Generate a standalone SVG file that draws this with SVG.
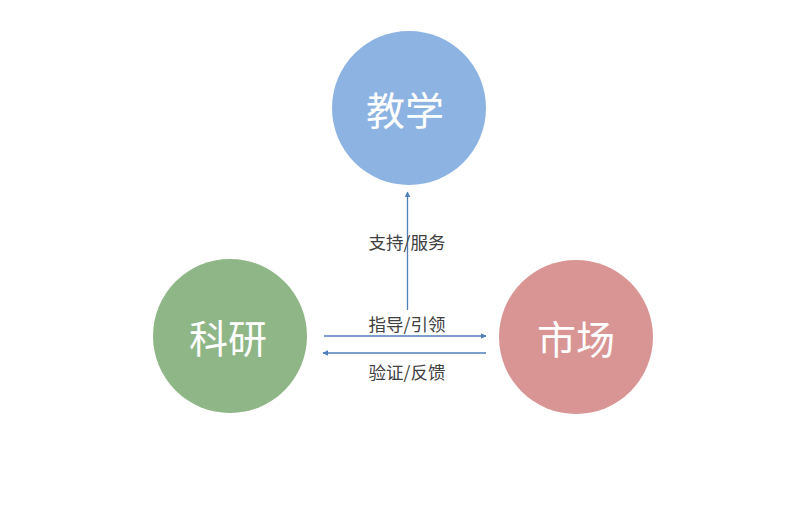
<svg xmlns="http://www.w3.org/2000/svg" width="800" height="528" viewBox="0 0 800 528">
<defs>
<marker id="ah" viewBox="0 0 10 10" refX="9" refY="5" markerWidth="6" markerHeight="6" orient="auto" markerUnits="userSpaceOnUse">
<path d="M0,0 L10,5 L0,10 z" fill="#4F7FB8"/>
</marker>
<style>
.node-label{font-family:"Noto Sans CJK SC","Noto Sans",sans-serif;font-size:39px;fill:#ffffff;text-anchor:middle;dominant-baseline:central}
.edge-label{font-family:"Noto Sans CJK SC","Noto Sans",sans-serif;font-size:17.5px;fill:#404040;text-anchor:middle;dominant-baseline:central}
.edge{stroke:#4F7FB8;stroke-width:1.3;fill:none;marker-end:url(#ah)}
</style>
</defs>
<rect width="800" height="528" fill="#ffffff"/>
<g id="node-jiaoxue">
<circle cx="409" cy="108" r="77" fill="#8DB3E2"/>
<text class="node-label" x="405" y="108">教学</text>
</g>
<g id="node-keyan">
<circle cx="230" cy="336" r="77" fill="#8FB686"/>
<text class="node-label" x="228" y="336">科研</text>
</g>
<g id="node-shichang">
<circle cx="576" cy="337" r="77" fill="#D99594"/>
<text class="node-label" x="576" y="337">市场</text>
</g>
<g id="connectors">
<line class="edge" x1="407.5" y1="310" x2="407.5" y2="192"/>
<line class="edge" x1="324" y1="336" x2="486" y2="336"/>
<line class="edge" x1="486" y1="353" x2="323" y2="353"/>
<text class="edge-label" x="407" y="241">支持/服务</text>
<text class="edge-label" x="407" y="323">指导/引领</text>
<text class="edge-label" x="407" y="371">验证/反馈</text>
</g>
</svg>
